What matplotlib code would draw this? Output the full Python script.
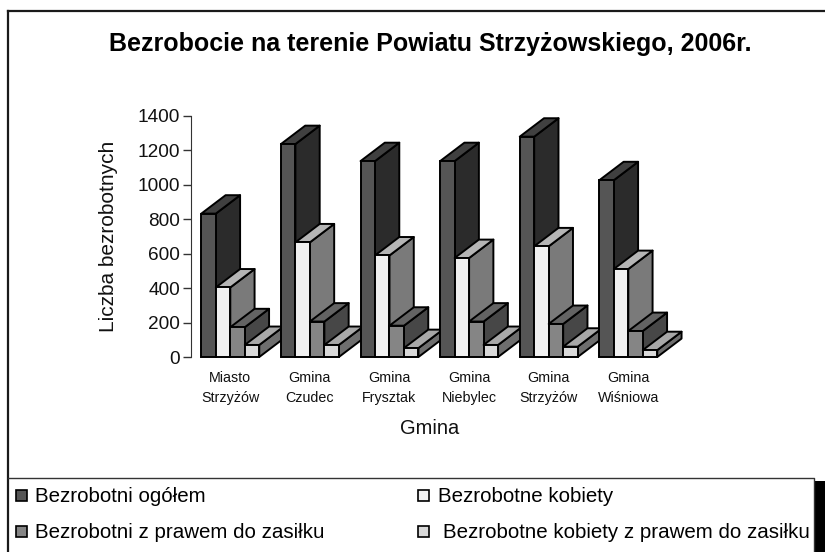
import matplotlib
matplotlib.use('Agg')
import matplotlib.pyplot as plt
from matplotlib.patches import Polygon, Rectangle

plt.rcParams['font.family'] = ['Liberation Sans', 'DejaVu Sans']

gminy = ['Miasto\nStrzyżów', 'Gmina\nCzudec', 'Gmina\nFrysztak', 'Gmina\nNiebylec', 'Gmina\nStrzyżów', 'Gmina\nWiśniowa']
ogolem = [833, 1237, 1138, 1138, 1280, 1027]
kobiety = [404, 666, 590, 575, 643, 511]
z_zasilkiem = [173, 206, 182, 206, 192, 151]
kobiety_z_zasilkiem = [70, 70, 52, 70, 60, 40]
yticks = [0, 200, 400, 600, 800, 1000, 1200, 1400]

series = [ogolem, kobiety, z_zasilkiem, kobiety_z_zasilkiem]
front = ['#555555', '#f0f0f0', '#858585', '#d9d9d9']
side = ['#2b2b2b', '#7a7a7a', '#474747', '#6e6e6e']
top = ['#404040', '#b5b5b5', '#636363', '#a8a8a8']

W, H = 825, 552
fig = plt.figure(figsize=(W / 100, H / 100), dpi=100)
ax = fig.add_axes([190.5 / W, 1 - 357 / H, 477.6 / W, 241 / H])

bar_w = 0.182
dx = 0.305
dy = 107
z = 3
for g in range(len(gminy)):
    for s in range(4):
        x0 = g + (s - 2) * bar_w
        x1 = x0 + bar_w
        v = series[s][g]
        ax.add_patch(Polygon([(x1, 0), (x1 + dx, dy), (x1 + dx, v + dy), (x1, v)], fc=side[s], ec='black', lw=1.4, zorder=z, clip_on=False, joinstyle='round'))
        ax.add_patch(Polygon([(x0, v), (x0 + dx, v + dy), (x1 + dx, v + dy), (x1, v)], fc=top[s], ec='black', lw=1.4, zorder=z, clip_on=False, joinstyle='round'))
        ax.bar(x0, v, bar_w, align='edge', color=front[s], edgecolor='black', lw=1.4, zorder=z + 1, clip_on=False)
        z += 2

ax.set_xlim(-0.5, 5.5)
ax.set_ylim(0, 1400)
ax.set_yticks(yticks)
ax.set_xticks(range(len(gminy)))
ax.set_xticklabels(gminy, fontsize=10.3, linespacing=1.6, color='#111111')
ax.tick_params(axis='x', length=0, pad=10)
ax.tick_params(axis='y', labelsize=13.7, length=6, width=1, color='#333333', pad=1.5, labelcolor='#111111')
for k in ['top', 'right', 'bottom']:
    ax.spines[k].set_visible(False)
ax.spines['left'].set_color('#333333')
ax.patch.set_alpha(0)

# ramka i legenda
fig.add_artist(Rectangle((815 / W, 0), 10 / W, 1 - 481 / H, transform=fig.transFigure, fc='black', ec='none'))
fig.add_artist(plt.Line2D([8 / W, 8 / W], [0, 1 - 11 / H], color='#1a1a1a', lw=1.6))
fig.add_artist(plt.Line2D([8 / W, 1], [1 - 11 / H, 1 - 11 / H], color='#1a1a1a', lw=1.6))
fig.add_artist(plt.Line2D([8 / W, 814 / W, 814 / W], [1 - 477.5 / H, 1 - 477.5 / H, 0], color='#333333', lw=1))

fig.text(430 / W, 1 - 44 / H, 'Bezrobocie na terenie Powiatu Strzyżowskiego, 2006r.', fontsize=18, fontweight='bold', ha='center', va='center')
fig.text(108 / W, 1 - 236 / H, 'Liczba bezrobotnych', fontsize=15, rotation=90, ha='center', va='center', color='#111111')
fig.text(430 / W, 1 - 428 / H, 'Gmina', fontsize=14.5, ha='center', va='center', color='#111111')

legend_labels = ['Bezrobotni ogółem', 'Bezrobotne kobiety', 'Bezrobotni z prawem do zasiłku', 'Bezrobotne kobiety z prawem do zasiłku']
legend_x = [16, 418, 16, 418]
legend_y = [495, 495, 531, 531]
legend_tx = [35, 438, 35, 443]
for i in range(4):
    fig.add_artist(Rectangle((legend_x[i] / W, 1 - (legend_y[i] + 6) / H), 11 / W, 11 / H, transform=fig.transFigure, fc=front[i], ec='black', lw=1.2))
    fig.text(legend_tx[i] / W, 1 - (legend_y[i] + 1.5) / H, legend_labels[i], fontsize=14.8, ha='left', va='center')

fig.savefig('out.png', dpi=100)
